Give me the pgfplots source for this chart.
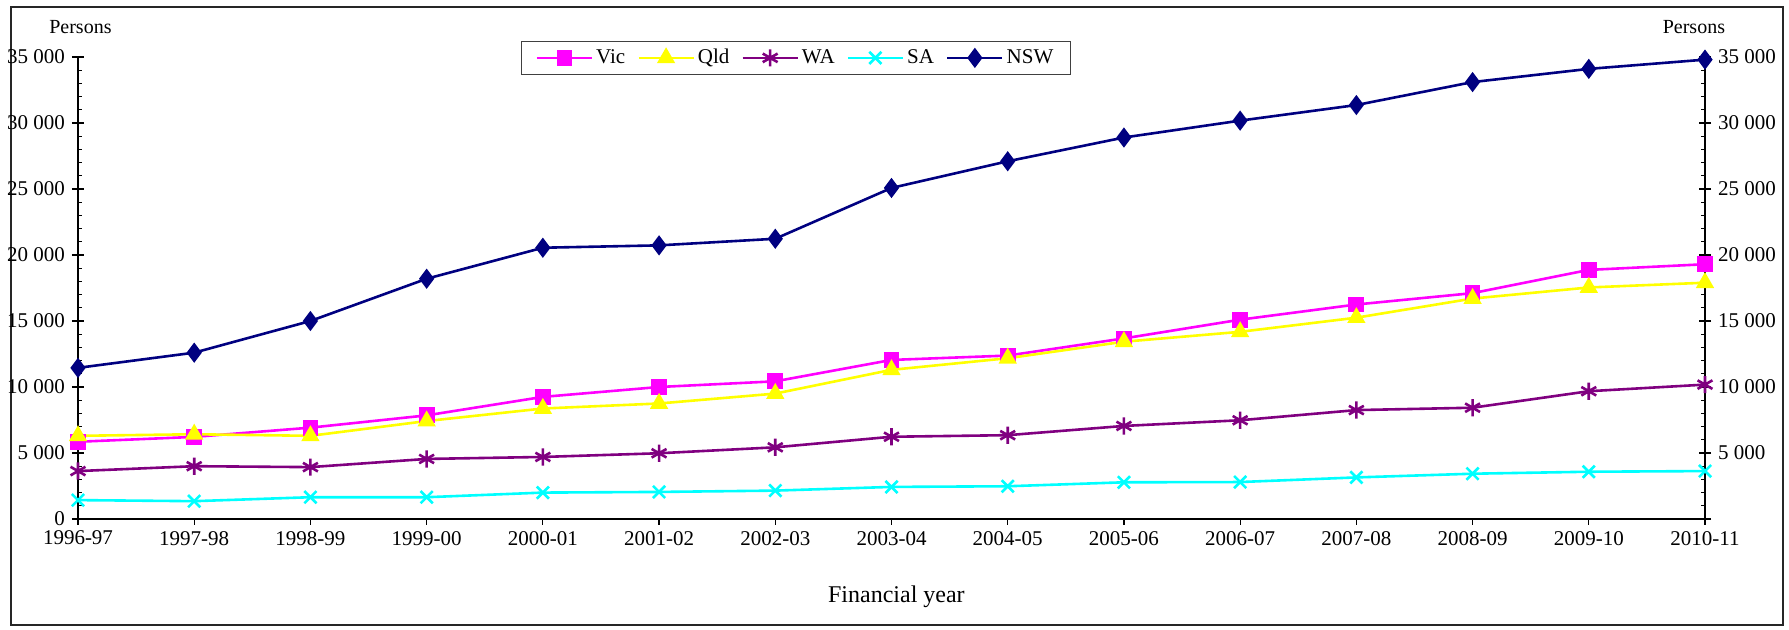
\documentclass[border=0pt]{standalone}
\usepackage{fontspec}
\setmainfont{Liberation Serif}
\usepackage{pgfplots}
\pgfplotsset{compat=1.18}
\usepackage{pgfplotstable}

\pgfplotstableread{
x Vic Qld WA SA NSW
0 5850 6300 3630 1430 11450
1 6220 6420 4000 1350 12600
2 6920 6300 3930 1650 15000
3 7850 7420 4550 1650 18200
4 9250 8370 4700 2000 20550
5 10000 8750 4980 2050 20730
6 10430 9500 5430 2150 21230
7 12050 11300 6230 2430 25080
8 12380 12180 6350 2480 27100
9 13680 13430 7050 2780 28900
10 15100 14180 7480 2800 30180
11 16250 15250 8250 3150 31360
12 17110 16700 8430 3430 33100
13 18870 17540 9680 3580 34100
14 19300 17900 10180 3630 34800
}\data

\definecolor{cVic}{RGB}{255,0,255}
\definecolor{cQld}{RGB}{255,255,0}
\definecolor{cWA}{RGB}{128,0,128}
\definecolor{cSA}{RGB}{0,255,255}
\definecolor{cNSW}{RGB}{0,0,128}

\pgfplotsset{
  base/.style={
    at={(0pt,0pt)}, anchor=south west, scale only axis,
    width=813.5pt, height=231pt,
    xmin=0, xmax=14, ymin=0, ymax=35000,
    scaled ticks=false,
    axis line style={black, line width=0.6pt},
    tick style={black, line width=0.6pt},
    major tick length=3pt, minor tick length=2.2pt,
    tick label style={font=\fontsize{10.5}{12}\selectfont},
  },
}

\begin{document}
\begin{tikzpicture}
\useasboundingbox (-39pt,-55.5pt) rectangle (855.5pt,259.5pt);
\draw[line width=0.7pt, black!85] (-33.5pt,-53pt) rectangle (852.5pt,256pt);

% left inside ticks (major + minor)
\begin{axis}[base, axis y line*=left, axis x line=none, tick align=inside,
  ytick={0,5000,...,35000}, minor y tick num=4, yticklabels={}]
\end{axis}
% right inside ticks
\begin{axis}[base, axis y line*=right, axis x line=none, tick align=inside,
  ytick={0,5000,...,35000}, minor y tick num=4, yticklabels={}]
\end{axis}
% right outside ticks with labels
\begin{axis}[base, axis y line*=right, axis x line=none, tick align=outside,
  ytick={0,5000,...,35000}, minor y tick num=0,
  yticklabels={{},5~000,10~000,15~000,20~000,25~000,30~000,35~000}]
\end{axis}
% main axis
\begin{axis}[base, axis y line*=left, axis x line*=bottom, tick align=outside,
  ytick={0,5000,...,35000},
  yticklabels={0,5~000,10~000,15~000,20~000,25~000,30~000,35~000},
  xtick={0,...,14},
  xticklabels={1996-97,1997-98,1998-99,1999-00,2000-01,2001-02,2002-03,2003-04,2004-05,2005-06,2006-07,2007-08,2008-09,2009-10,2010-11},
  xticklabel style={yshift=0.5pt},
  legend columns=5,
  legend style={at={(axis description cs:0.4413,1.0357)}, anchor=north,
    draw=black!75, line width=0.6pt, font=\fontsize{10.5}{12}\selectfont,
    inner xsep=7pt, inner ysep=2pt,
    nodes={inner xsep=1.5pt},
    /tikz/every odd column/.append style={column sep=0pt},
    /tikz/every even column/.append style={column sep=4.5pt}},
  legend image code/.code={\draw[mark repeat=2,mark phase=2] plot coordinates {(0pt,0pt) (13.75pt,0pt) (27.5pt,0pt)};},
  every axis plot/.append style={line width=1.3pt},
  clip=false,
]
\addplot[color=cVic, mark=square*, mark size=3.3pt, mark options={fill=cVic}] table[x=x,y=Vic] {\data};
\addlegendentry{Vic}
\addplot[color=cQld, mark=triangle*, mark size=4pt, mark options={fill=cQld}] table[x=x,y=Qld] {\data};
\addlegendentry{Qld}
\addplot[color=cWA, mark=asterisk, mark size=4.3pt, mark options={line width=1.3pt}] table[x=x,y=WA] {\data};
\addlegendentry{WA}
\addplot[color=cSA, mark=x, mark size=4.3pt, mark options={line width=1.3pt}] table[x=x,y=SA] {\data};
\addlegendentry{SA}
\addplot[color=cNSW, mark=diamond*, mark size=4pt, mark options={fill=cNSW}] table[x=x,y=NSW] {\data};
\addlegendentry{NSW}

\node[font=\fontsize{10}{12}\selectfont] at (axis description cs:0.0015,1.065) {Persons};
\node[font=\fontsize{10}{12}\selectfont] at (axis description cs:0.9932,1.065) {Persons};
\node[font=\fontsize{12}{14}\selectfont] at (axis description cs:0.503,-0.168) {Financial year};
\end{axis}
\end{tikzpicture}
\end{document}
